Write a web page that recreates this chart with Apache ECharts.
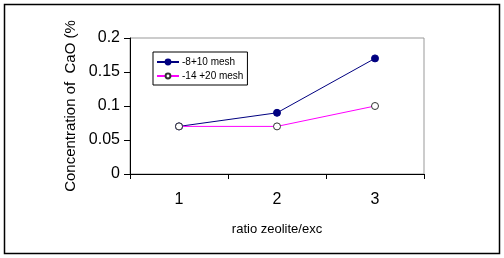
<!DOCTYPE html>
<html><head><meta charset="utf-8">
<script src="https://cdn.jsdelivr.net/npm/echarts@6/dist/echarts.min.js"></script>
<style>html,body{margin:0;padding:0;background:#fff}#c{width:504px;height:258px}</style>
</head><body><div id="c"></div>
<script>
const categories = ['1', '2', '3'];
const seriesNames = ['-8+10 mesh', '-14 +20 mesh'];
const mesh8to10 = [0.07, 0.09, 0.17];
const mesh14to20 = [0.07, 0.07, 0.10];
const yMin = 0, yMax = 0.2, yStep = 0.05;

const chart = echarts.init(document.getElementById('c'), null, {renderer: 'canvas'});
const font = 'Liberation Sans, Arial, sans-serif';
chart.setOption({
  animation: false,
  backgroundColor: '#fff',
  graphic: [{type: 'rect', shape: {x: 4.5, y: 4.5, width: 495, height: 249}, style: {fill: 'none', stroke: '#000', lineWidth: 1.5}, silent: true}],
  grid: {left: 130, top: 38, right: 80, bottom: 84, show: true, borderColor: '#999', borderWidth: 1},
  legend: {
    left: 153, top: 52, orient: 'vertical', itemGap: 4, itemWidth: 22, itemHeight: 6,
    borderColor: '#000', borderWidth: 1, padding: [5, 4, 4, 3],
    textStyle: {fontFamily: 'Liberation Sans Narrow, Arial Narrow, Liberation Sans, sans-serif', fontSize: 10, color: '#000', padding: [0, 0, 0, -2]},
    data: seriesNames
  },
  xAxis: {
    type: 'category', data: categories, boundaryGap: true,
    name: 'ratio zeolite/exc', nameLocation: 'middle', nameGap: 49,
    nameTextStyle: {fontFamily: font, fontSize: 13, color: '#000'},
    axisLine: {lineStyle: {color: '#000', width: 1}},
    axisTick: {show: true, inside: false, length: 5, interval: 0, lineStyle: {color: '#000'}},
    axisLabel: {fontFamily: font, fontSize: 16, color: '#000', margin: 18}
  },
  yAxis: {
    type: 'value', min: yMin, max: yMax, interval: yStep,
    name: 'Concentration of  CaO (%', nameLocation: 'middle', nameGap: 48,
    nameTextStyle: {fontFamily: font, fontSize: 15, color: '#000'},
    axisLine: {show: true, lineStyle: {color: '#000', width: 1}},
    axisTick: {show: true, inside: false, length: 6, lineStyle: {color: '#000'}},
    axisLabel: {fontFamily: font, fontSize: 16, color: '#000', margin: 10},
    splitLine: {show: false}
  },
  series: [
    {name: seriesNames[0], type: 'line', data: mesh8to10, symbol: 'circle', symbolSize: 7,
     lineStyle: {color: '#000080', width: 1}, itemStyle: {color: '#000080', borderColor: '#000080', borderWidth: 1}},
    {name: seriesNames[1], type: 'line', data: mesh14to20, symbol: 'circle', symbolSize: 7,
     lineStyle: {color: '#ff00ff', width: 1}, itemStyle: {color: '#fff', borderColor: '#333', borderWidth: 1}}
  ]
});
</script></body></html>
